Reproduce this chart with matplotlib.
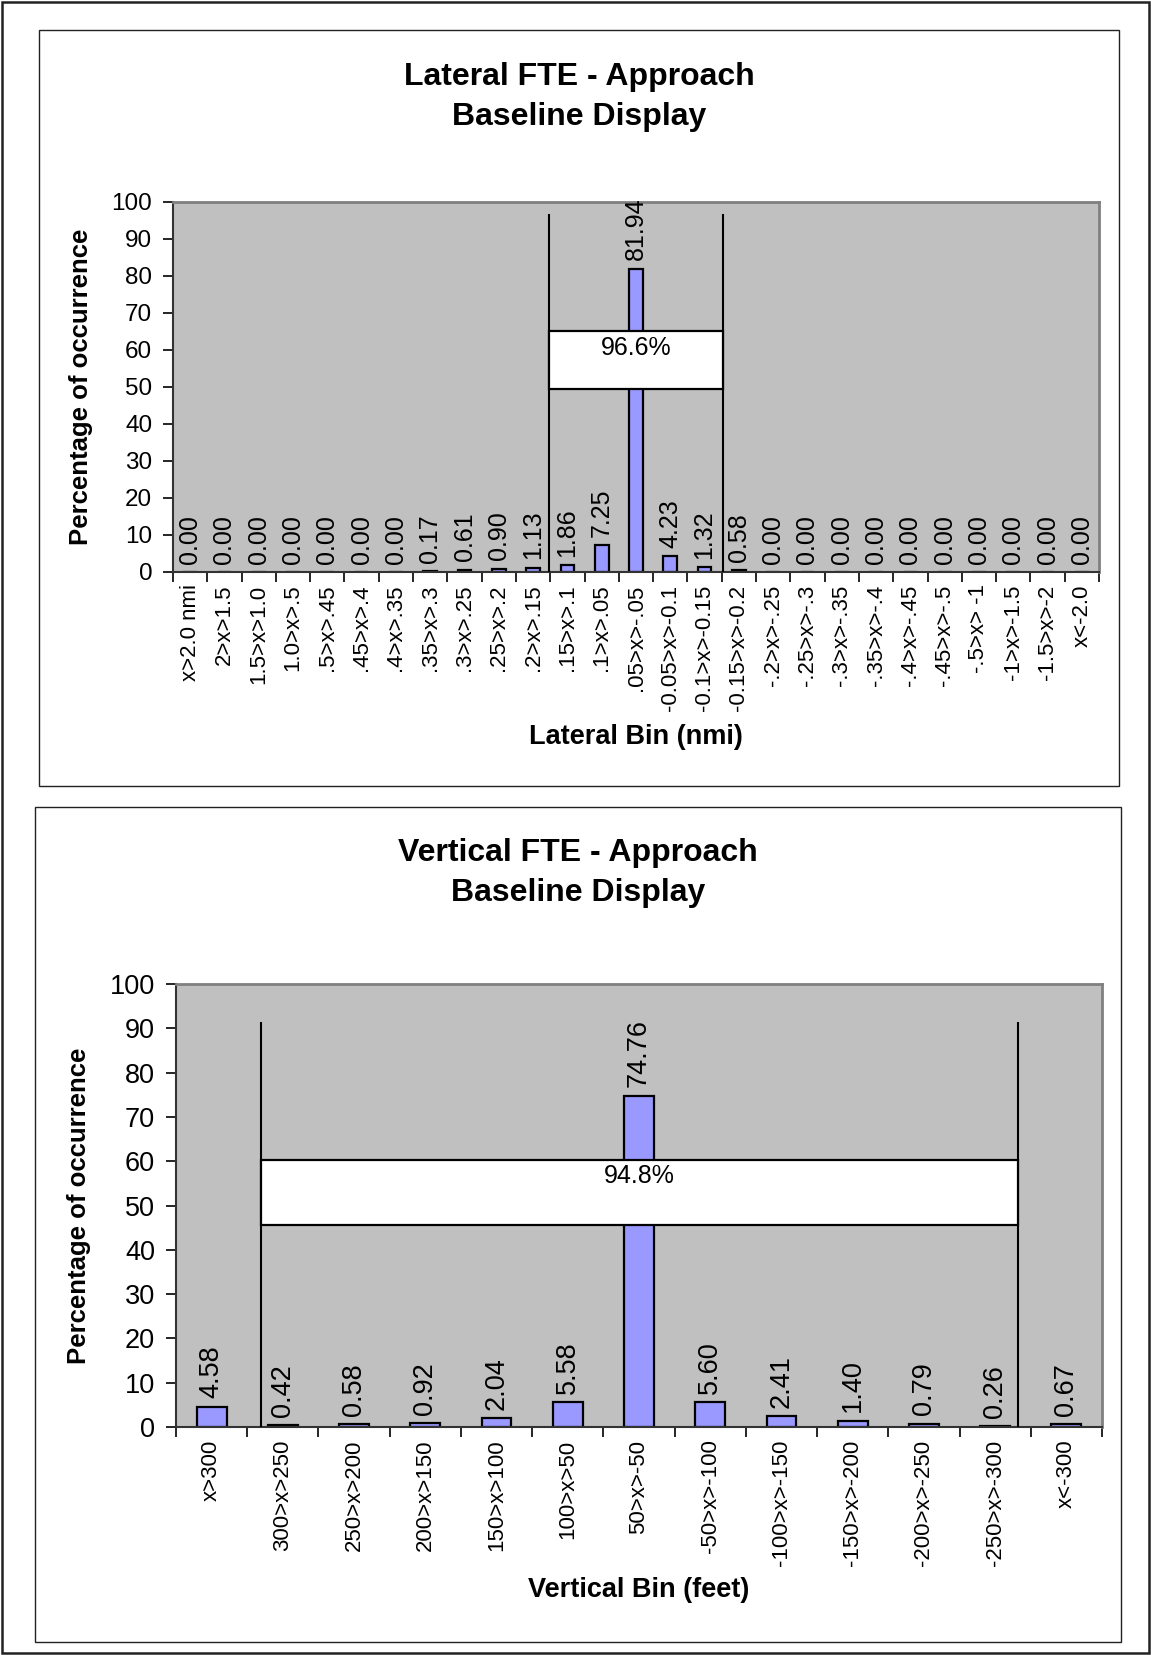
import matplotlib
matplotlib.use('Agg')
import matplotlib.pyplot as plt
from matplotlib.patches import Rectangle

plt.rcParams['font.family'] = ['Liberation Sans', 'DejaVu Sans']

W, H = 1151, 1655

lat_bins = ['x>2.0 nmi', '2>x>1.5', '1.5>x>1.0', '1.0>x>.5', '.5>x>.45', '.45>x>.4',
            '.4>x>.35', '.35>x>.3', '.3>x>.25', '.25>x>.2', '.2>x>.15', '.15>x>.1',
            '.1>x>.05', '.05>x>-.05', '-0.05>x>-0.1', '-0.1>x>-0.15', '-0.15>x>-0.2',
            '-.2>x>-.25', '-.25>x>-.3', '-.3>x>-.35', '-.35>x>-.4', '-.4>x>-.45',
            '-.45>x>-.5', '-.5>x> -1', '-1>x>-1.5', '-1.5>x>-2', 'x<-2.0']
lat_pct = [0.00, 0.00, 0.00, 0.00, 0.00, 0.00, 0.00, 0.17, 0.61, 0.90, 1.13, 1.86,
           7.25, 81.94, 4.23, 1.32, 0.58, 0.00, 0.00, 0.00, 0.00, 0.00, 0.00, 0.00,
           0.00, 0.00, 0.00]
lat_total = '96.6%'

vert_bins = ['x>300', '300>x>250', '250>x>200', '200>x>150', '150>x>100', '100>x>50',
             '50>x>-50', '-50>x>-100', '-100>x>-150', '-150>x>-200', '-200>x>-250',
             '-250>x>-300', 'x<-300']
vert_pct = [4.58, 0.42, 0.58, 0.92, 2.04, 5.58, 74.76, 5.60, 2.41, 1.40, 0.79, 0.26, 0.67]
vert_total = '94.8%'


def frac(x0, y0, x1, y1):
    # pixel box (top-left origin) -> figure fraction rect
    return [x0 / W, 1 - y1 / H, (x1 - x0) / W, (y1 - y0) / H]


def panel(fig, box, ax_box, bins, vals, title, xlabel, ytick_size, lbl_size,
          bar_w, lines, line_top, band, band_y, total, title_y, ylab_x, xlab_y):
    r = frac(*box)
    fig.patches.append(Rectangle((r[0], r[1]), r[2], r[3], transform=fig.transFigure,
                                 fill=False, edgecolor='#222222', lw=1.0))
    ax = fig.add_axes(frac(*ax_box))
    ax.set_facecolor('#C0C0C0')
    x = list(range(len(bins)))
    ax.bar(x, vals, width=bar_w, color='#9999FF', edgecolor='black', linewidth=1.6, zorder=2)
    for xi, v in zip(x, vals):
        ax.annotate('%.2f' % v, (xi, v), xytext=(0, 6), textcoords='offset points',
                    rotation=90, ha='center', va='bottom', fontsize=lbl_size, zorder=5)
    ax.set_xlim(-0.5, len(bins) - 0.5)
    ax.set_ylim(0, 100)
    ax.set_yticks(range(0, 101, 10))
    ax.tick_params(axis='y', labelsize=ytick_size, length=7, width=1.2, pad=8)
    ax.set_xticks(x)
    ax.set_xticklabels(bins, rotation=90, fontsize=16)
    ax.tick_params(axis='x', which='major', length=0, pad=9)
    ax.set_xticks([i - 0.5 for i in range(len(bins) + 1)], minor=True)
    ax.tick_params(axis='x', which='minor', length=7, width=1.2)
    for s in ['top', 'right']:
        ax.spines[s].set_color('#808080')
        ax.spines[s].set_linewidth(2)
    for s in ['left', 'bottom']:
        ax.spines[s].set_color('#333333')
        ax.spines[s].set_linewidth(1.5)
    ax.vlines(lines, 0, line_top, colors='black', lw=1.5, zorder=6)
    ax.add_patch(Rectangle((lines[0], band[0]), lines[1] - lines[0], band[1] - band[0],
                           facecolor='white', edgecolor='black', lw=1.6, zorder=7))
    ax.text((lines[0] + lines[1]) / 2, band_y, total, ha='center', va='center',
            fontsize=18, zorder=8)
    cx = (box[0] + box[2]) / 2 / W
    fig.text(cx, 1 - title_y / H, title, ha='center', va='center', fontsize=23,
             fontweight='bold', linespacing=1.45)
    fig.text(ylab_x / W, 1 - (ax_box[1] + ax_box[3]) / 2 / H, 'Percentage of occurrence',
             rotation=90, ha='center', va='center', fontsize=18.5, fontweight='bold')
    fig.text((ax_box[0] + ax_box[2]) / 2 / W, 1 - xlab_y / H, xlabel, ha='center',
             va='center', fontsize=19.5, fontweight='bold')
    return ax


fig = plt.figure(figsize=(W / 100, H / 100), dpi=100)
fig.patches.append(Rectangle((2 / W, 2 / H), (W - 4) / W, (H - 4) / H,
                             transform=fig.transFigure, fill=False,
                             edgecolor='#222222', lw=1.8))

panel(fig, (39, 30, 1119, 786), (173, 202, 1099, 572), lat_bins, lat_pct,
      'Lateral FTE - Approach\nBaseline Display', 'Lateral Bin (nmi)', 17.5, 18,
      0.4, [10.45, 15.55], 96.8, (49.5, 65.0), 60.5, lat_total, 97, 81, 737)

panel(fig, (35, 807, 1121, 1642), (176, 984, 1102, 1427), vert_bins, vert_pct,
      'Vertical FTE - Approach\nBaseline Display', 'Vertical Bin (feet)', 19.5, 19.5,
      0.42, [0.7, 11.32], 91.4, (45.5, 60.2), 56.7, vert_total, 873, 79, 1590)

fig.savefig('out.png', dpi=100)
